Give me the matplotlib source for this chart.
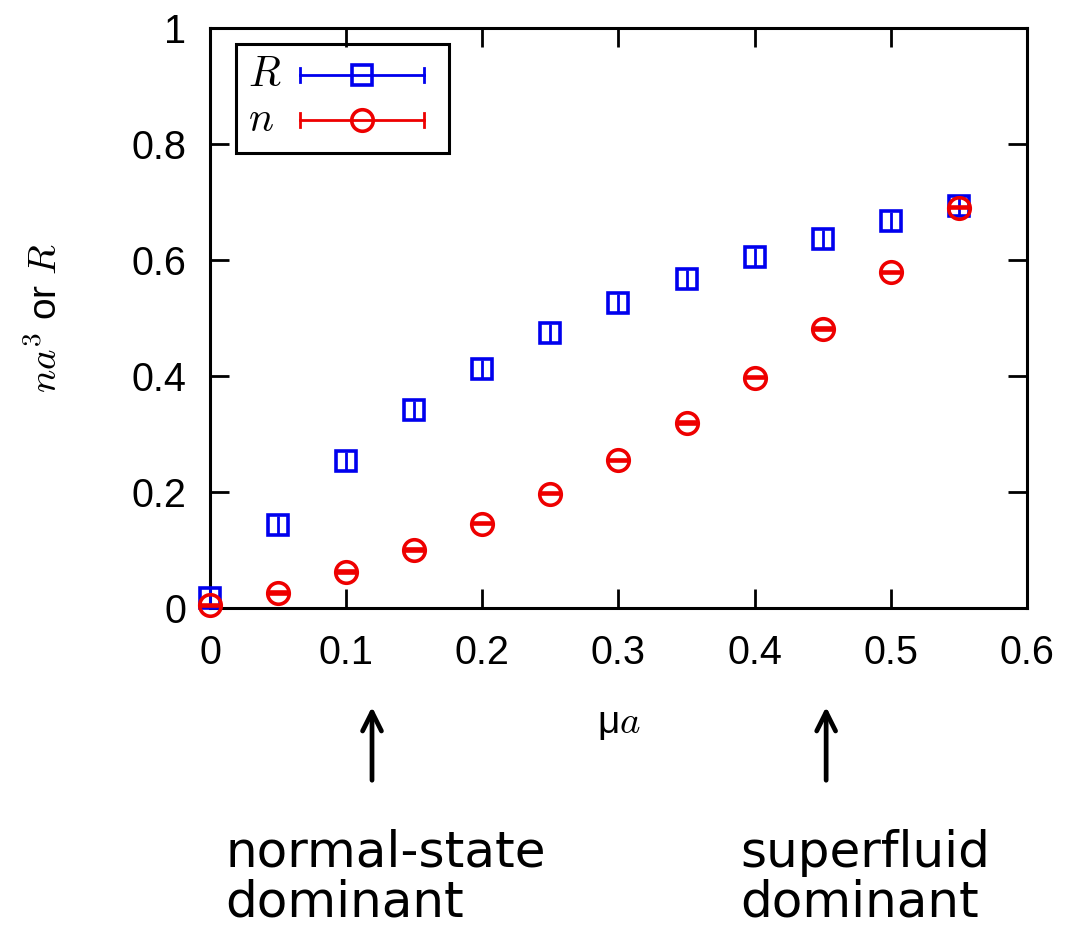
import matplotlib
matplotlib.use("Agg")
import matplotlib.pyplot as plt
from matplotlib.patches import Rectangle
from matplotlib.lines import Line2D

plt.rcParams['mathtext.fontset'] = 'cm'
plt.rcParams['font.family'] = ['Liberation Sans', 'DejaVu Sans']

# chemical potential (mu a) and measured quantities
mu_a = [0.0, 0.05, 0.10, 0.15, 0.20, 0.25, 0.30, 0.35, 0.40, 0.45, 0.50, 0.55]
R_vals = [0.017, 0.143, 0.253, 0.341, 0.412, 0.474, 0.526, 0.567, 0.605, 0.636, 0.667, 0.693]
R_err = [0.016] * 12
n_vals = [0.005, 0.026, 0.062, 0.100, 0.145, 0.197, 0.255, 0.319, 0.397, 0.481, 0.579, 0.690]
n_err = [0.001] * 12

x_ticks = [0.0, 0.1, 0.2, 0.3, 0.4, 0.5, 0.6]
x_tick_labels = ['0', '0.1', '0.2', '0.3', '0.4', '0.5', '0.6']
y_ticks = [0.0, 0.2, 0.4, 0.6, 0.8, 1.0]
y_tick_labels = ['0', '0.2', '0.4', '0.6', '0.8', '1']

blue = '#0000ee'
red = '#ee0000'

fig = plt.figure(figsize=(10.68, 9.27), dpi=100)
ax = fig.add_axes([0.1966, 0.3441, 0.7650, 0.6257])

ax.errorbar(mu_a, R_vals, yerr=R_err, fmt='s', ms=15, mfc='none', mec=blue,
            mew=2.6, ecolor=blue, elinewidth=2.0, capsize=0, color=blue,
            clip_on=False, zorder=3)
ax.errorbar(mu_a, n_vals, yerr=n_err, fmt='o', ms=15.5, mfc='none', mec=red,
            mew=2.6, ecolor=red, elinewidth=2.0, capsize=7.5, capthick=2.0,
            color=red, clip_on=False, zorder=4)

ax.set_xlim(0, 0.6)
ax.set_ylim(0, 1)
ax.set_xticks(x_ticks)
ax.set_xticklabels(x_tick_labels)
ax.set_yticks(y_ticks)
ax.set_yticklabels(y_tick_labels)
ax.tick_params(direction='in', length=13.5, width=2.0, labelsize=28.5,
               top=True, right=True)
ax.tick_params(axis='y', pad=17)
ax.tick_params(axis='x', pad=19)
for sp in ax.spines.values():
    sp.set_linewidth(2.2)

ax.set_xlabel('μ$a$', fontsize=28, labelpad=24)
ax.set_ylabel('$na^3$ or $R$', fontsize=28, labelpad=48)

# legend drawn by hand: horizontal error-bar sample with marker
ax.add_patch(Rectangle((0.032, 0.784), 0.2605, 0.188, transform=ax.transAxes,
                       fill=False, lw=2.2, ec='black', zorder=5, clip_on=False))
rows = [('$R$', 0.919, blue, 's', 15), ('$n$', 0.841, red, 'o', 15.5)]
for label, yy, col, mk, ms in rows:
    ax.text(0.047, yy, label, transform=ax.transAxes, fontsize=30,
            va='center', ha='left', zorder=6)
    ax.add_line(Line2D([0.110, 0.262], [yy, yy], transform=ax.transAxes,
                       color=col, lw=2.0, zorder=6))
    for xe in (0.110, 0.262):
        ax.add_line(Line2D([xe, xe], [yy - 0.012, yy + 0.012], transform=ax.transAxes,
                           color=col, lw=2.0, zorder=6))
    ax.add_line(Line2D([0.186], [yy], transform=ax.transAxes, marker=mk, ms=ms,
                       mfc='none', mec=col, mew=2.6, ls='none', zorder=6))

# regime arrows below the axis
for xa in (0.119, 0.4525):
    ax.annotate('', xy=(xa, 0.2405), xytext=(xa, 0.1553),
                xycoords=('data', 'figure fraction'),
                textcoords=('data', 'figure fraction'),
                arrowprops=dict(arrowstyle='->', lw=3.4, color='black',
                                mutation_scale=34))

fig.text(0.2107, 0.106, 'normal-state\ndominant', fontsize=36, va='top', ha='left',
         family='DejaVu Sans', linespacing=1.05)
fig.text(0.6929, 0.106, 'superfluid\ndominant', fontsize=36, va='top', ha='left',
         family='DejaVu Sans', linespacing=1.05)

fig.savefig('out.png', dpi=100)
